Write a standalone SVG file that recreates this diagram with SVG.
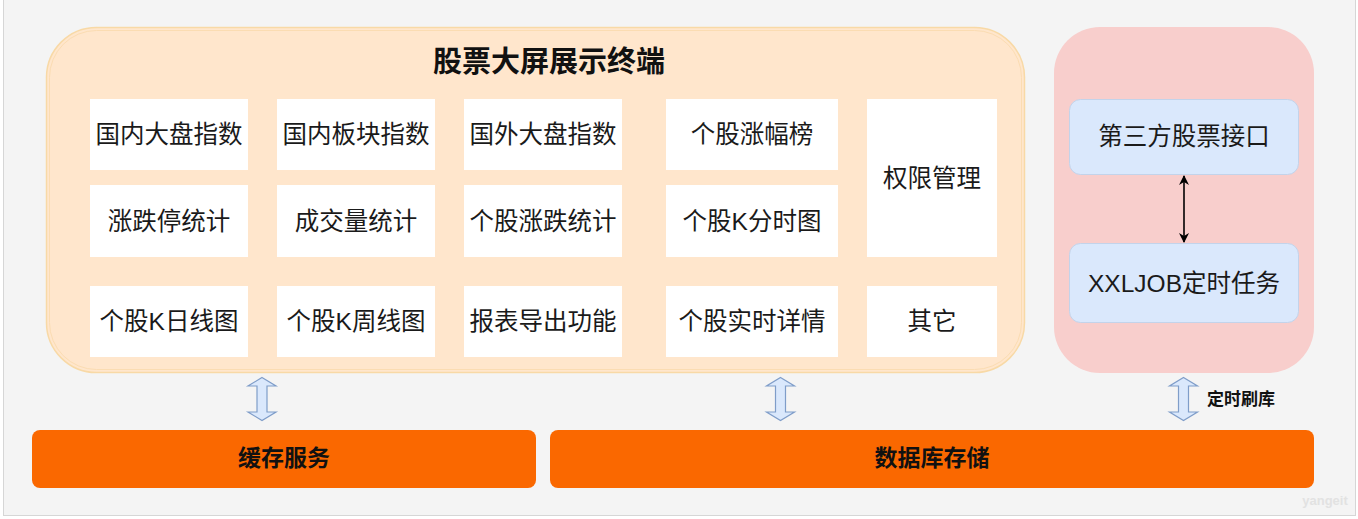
<svg xmlns="http://www.w3.org/2000/svg" width="1358" height="519" viewBox="0 0 1358 519">
<defs>
<style>
.t{font-family:"Liberation Sans","Noto Sans CJK SC",sans-serif;font-size:24.5px;fill:#1a1a1a;text-anchor:middle;dominant-baseline:central}
.b{font-family:"Liberation Sans","Noto Sans CJK SC",sans-serif;font-weight:bold;fill:#111;text-anchor:middle;dominant-baseline:central}
.cell{fill:#ffffff}
.blue{fill:#dae8fc;stroke:#c3d3ea;stroke-width:1}
.bar{fill:#fa6800}
.barrow{fill:#dae8fc;stroke:#7f9dc9;stroke-width:1.2}
</style>
<marker id="ah" viewBox="0 0 10 10" refX="9" refY="5" markerWidth="10" markerHeight="10" orient="auto-start-reverse" markerUnits="userSpaceOnUse">
<path d="M0,0 L10,5 L0,10 L3,5 Z" fill="#000"/>
</marker>
</defs>
<rect x="0" y="0" width="1358" height="519" fill="#ffffff"/>
<rect x="3.5" y="-0.5" width="1352" height="516" fill="#f4f4f4" stroke="#d6d6d6" stroke-width="1"/>

<g id="frontend">
<rect x="46.5" y="27.5" width="978" height="345" rx="50" fill="#ffe6cc" stroke="#f8d9a6" stroke-width="1.5"/>
<rect x="49.5" y="30.5" width="972" height="339" rx="47" fill="none" stroke="#fbdcb2" stroke-width="1"/>
<text class="b" x="549" y="62" font-size="29">股票大屏展示终端</text>
</g>

<g id="c11"><rect class="cell" x="90" y="99" width="158" height="71"/><text class="t" x="169" y="134.5">国内大盘指数</text></g>
<g id="c12"><rect class="cell" x="277" y="99" width="158" height="71"/><text class="t" x="356" y="134.5">国内板块指数</text></g>
<g id="c13"><rect class="cell" x="464" y="99" width="158" height="71"/><text class="t" x="543" y="134.5">国外大盘指数</text></g>
<g id="c14"><rect class="cell" x="666" y="99" width="172" height="71"/><text class="t" x="752" y="134.5">个股涨幅榜</text></g>
<g id="c15"><rect class="cell" x="867" y="99" width="130" height="158"/><text class="t" x="932" y="178">权限管理</text></g>

<g id="c21"><rect class="cell" x="90" y="185" width="158" height="72"/><text class="t" x="169" y="221">涨跌停统计</text></g>
<g id="c22"><rect class="cell" x="277" y="185" width="158" height="72"/><text class="t" x="356" y="221">成交量统计</text></g>
<g id="c23"><rect class="cell" x="464" y="185" width="158" height="72"/><text class="t" x="543" y="221">个股涨跌统计</text></g>
<g id="c24"><rect class="cell" x="666" y="185" width="172" height="72"/><text class="t" x="752" y="221">个股K分时图</text></g>

<g id="c31"><rect class="cell" x="90" y="286" width="158" height="71"/><text class="t" x="169" y="321.5">个股K日线图</text></g>
<g id="c32"><rect class="cell" x="277" y="286" width="158" height="71"/><text class="t" x="356" y="321.5">个股K周线图</text></g>
<g id="c33"><rect class="cell" x="464" y="286" width="158" height="71"/><text class="t" x="543" y="321.5">报表导出功能</text></g>
<g id="c34"><rect class="cell" x="666" y="286" width="172" height="71"/><text class="t" x="752" y="321.5">个股实时详情</text></g>
<g id="c35"><rect class="cell" x="867" y="286" width="130" height="71"/><text class="t" x="932" y="321.5">其它</text></g>

<g id="thirdparty">
<rect x="1054" y="27" width="260" height="346" rx="46" fill="#f8cecc"/>
</g>
<g id="api"><rect class="blue" x="1069.5" y="99.5" width="229" height="75" rx="11"/><text class="t" x="1184" y="136.5">第三方股票接口</text></g>
<g id="xxljob"><rect class="blue" x="1069.5" y="243.5" width="229" height="79" rx="11"/><text class="t" x="1184" y="283">XXLJOB定时任务</text></g>

<g id="cache"><rect class="bar" x="32" y="430" width="504" height="58" rx="8"/><text class="b" x="284" y="458" font-size="23">缓存服务</text></g>
<g id="db"><rect class="bar" x="550" y="430" width="764" height="58" rx="8"/><text class="b" x="932" y="458" font-size="23">数据库存储</text></g>

<g id="connectors">
<line x1="1184" y1="176" x2="1184" y2="242" stroke="#000" stroke-width="1.6" marker-start="url(#ah)" marker-end="url(#ah)"/>
<path class="barrow" d="M262,377.5 L276,386 L267,386 L267,412 L276,412 L262,420.5 L248,412 L257,412 L257,386 L248,386 Z"/>
<path class="barrow" d="M780.5,377.5 L794.5,386 L785.5,386 L785.5,412 L794.5,412 L780.5,420.5 L766.5,412 L775.5,412 L775.5,386 L766.5,386 Z"/>
<path class="barrow" d="M1183.5,377.5 L1197.5,386 L1188.5,386 L1188.5,412 L1197.5,412 L1183.5,420.5 L1169.5,412 L1178.5,412 L1178.5,386 L1169.5,386 Z"/>
<text class="b" x="1241" y="399" font-size="17">定时刷库</text>
</g>

<text x="1325" y="505" font-family="Liberation Sans,sans-serif" font-size="13" font-weight="bold" fill="#e2e2e2" text-anchor="middle">yangeit</text>
</svg>
